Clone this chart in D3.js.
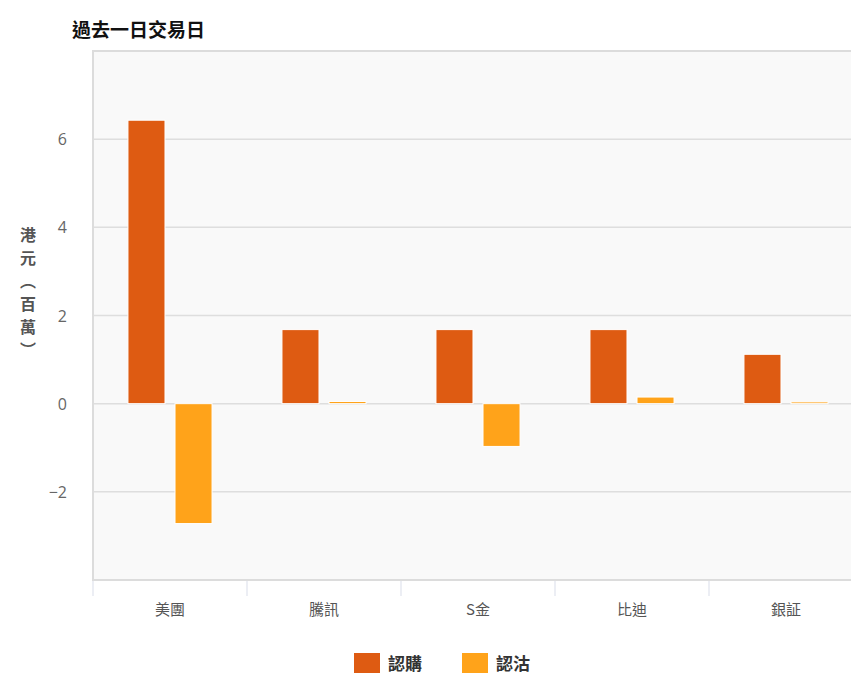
<!DOCTYPE html>
<html><head><meta charset="utf-8">
<script src="https://cdn.jsdelivr.net/npm/d3@7"></script>
<style>
html,body{margin:0;padding:0;background:#fff;}
svg{display:block;font-family:"Noto Sans CJK TC","Noto Sans",sans-serif;}
</style></head>
<body>
<svg id="c" width="851" height="674"></svg>
<script>
const categories = ["美團","騰訊","S金","比迪","銀証"];
const seriesNames = ["認購","認沽"];
const callValues = [6.43, 1.68, 1.68, 1.68, 1.12];
const putValues = [-2.72, 0.05, -0.97, 0.15, 0.04];
const yTicks = [-4,-2,0,2,4,6,8];
const yLabelTicks = [-2,0,2,4,6];
const colors = ["#de5b12","#ffa31a"];

const svg = d3.select("#c");
const L = 93, T = 51, B = 580, step = 154;
const R = L + step * categories.length;

const x0 = d3.scaleBand().domain(categories).range([L, R]);
const x1 = d3.scaleBand().domain(seriesNames)
  .range([step*0.227, step*0.773]).paddingInner(0.213);
const y = d3.scaleLinear().domain([-4, 8]).range([B, T]);

// plot background
svg.append("rect").attr("x", L).attr("y", T).attr("width", R-L).attr("height", B-T)
  .attr("fill", "#f9f9f9");

// gridlines
svg.append("g").selectAll("line").data(yTicks.filter(d=>d>-4 && d<8)).join("line")
  .attr("x1", L).attr("x2", R).attr("y1", d=>y(d)).attr("y2", d=>y(d))
  .attr("stroke", "#dedede").attr("stroke-width", 1.5);

// border
svg.append("rect").attr("x", L).attr("y", T).attr("width", R-L).attr("height", B-T)
  .attr("fill", "none").attr("stroke", "#dcdcdc").attr("stroke-width", 2);

// x tick marks
svg.append("g").selectAll("line").data(d3.range(categories.length+1)).join("line")
  .attr("x1", i=>L+i*step).attr("x2", i=>L+i*step).attr("y1", B+1).attr("y2", B+16)
  .attr("stroke", "#e6e9f0").attr("stroke-width", 1.5);

// bars
const data = categories.map((c,i)=>({cat:c, vals:[callValues[i], putValues[i]]}));
const g = svg.append("g").selectAll("g").data(data).join("g")
  .attr("transform", d=>`translate(${x0(d.cat)},0)`);
g.selectAll("rect").data(d=>d.vals.map((v,j)=>({s:seriesNames[j], v, j}))).join("rect")
  .attr("x", d=>x1(d.s)).attr("width", x1.bandwidth())
  .attr("y", d=>y(Math.max(0,d.v))).attr("height", d=>Math.abs(y(d.v)-y(0)))
  .attr("fill", d=>colors[d.j]).attr("stroke", "#fff").attr("stroke-width", 1);

// y labels
svg.append("g").selectAll("text").data(yLabelTicks).join("text")
  .attr("x", 67).attr("y", d=>y(d)+6).attr("text-anchor","end")
  .attr("font-size", 16).attr("fill", "#666")
  .attr("font-family", "'Open Sans','DejaVu Sans',sans-serif")
  .text(d=> d<0 ? "\u2212"+Math.abs(d) : d);

// x labels
svg.append("g").selectAll("text").data(categories).join("text")
  .attr("x", d=>x0(d)+step/2).attr("y", 615).attr("text-anchor","middle")
  .attr("font-size", 15).attr("fill", "#555").text(d=>d);

// title
svg.append("text").attr("x", 72).attr("y", 37).attr("font-size", 19)
  .attr("font-weight", "bold").attr("fill", "#111").text("過去一日交易日");

// y axis title (vertical)
const yt = ["港","元","︵","百","萬","︶"];
svg.append("g").selectAll("text").data(yt).join("text")
  .attr("x", 28).attr("y", (d,i)=>241 + i*23).attr("text-anchor","middle")
  .attr("font-size", 16).attr("font-weight","bold").attr("fill","#555").text(d=>d);

// legend
const lg = svg.append("g").selectAll("g").data(seriesNames).join("g")
  .attr("transform", (d,i)=>`translate(${354 + i*108},653)`);
lg.append("rect").attr("width", 26).attr("height", 20).attr("fill", (d,i)=>colors[i]);
lg.append("text").attr("x", 34).attr("y", 17).attr("font-size", 17)
  .attr("font-weight","bold").attr("fill","#333").text(d=>d);
</script>
</body></html>
